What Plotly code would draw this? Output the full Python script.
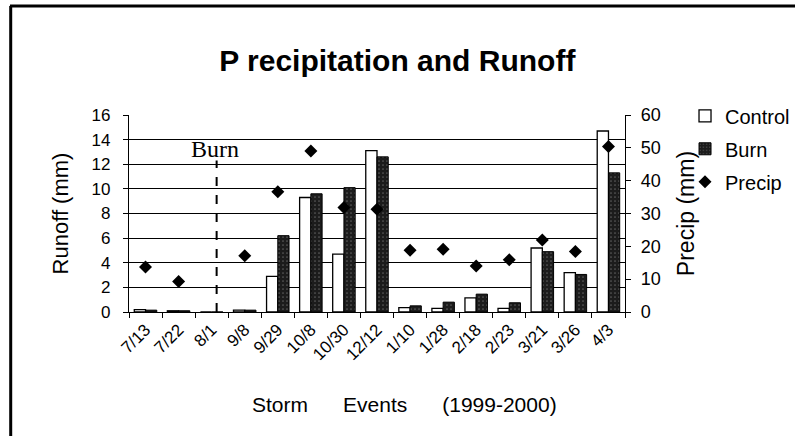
import plotly.graph_objects as go

events = ["7/13", "7/22", "8/1", "9/8", "9/29", "10/8", "10/30", "12/12",
          "1/10", "1/28", "2/18", "2/23", "3/21", "3/26", "4/3"]
control = [0.2, 0.1, 0, 0.15, 2.9, 9.3, 4.7, 13.1, 0.35, 0.3, 1.15, 0.3, 5.2, 3.2, 14.7]
burn = [0.15, 0.1, 0, 0.15, 6.2, 9.6, 10.1, 12.6, 0.5, 0.8, 1.45, 0.75, 4.9, 3.05, 11.3]
precip = [13.7, 9.3, None, 17.1, 36.6, 49.0, 31.8, 31.3, 18.8, 19.1, 14.0, 15.9, 21.9, 18.4, 50.4]

FONT = "Liberation Sans, Arial, sans-serif"

fig = go.Figure()
fig.add_trace(go.Bar(x=events, y=control, name="Control",
                     marker=dict(color="white", line=dict(color="black", width=1.3)),
                     legendgroup="a"))
fig.add_trace(go.Bar(x=events, y=burn, name="Burn",
                     marker=dict(color="#1c1c1c", line=dict(color="black", width=1),
                                 pattern=dict(shape=".", fgcolor="#9a9a9a", size=4, solidity=0.15)),
                     legendgroup="b"))
fig.add_trace(go.Scatter(x=events, y=precip, name="Precip", mode="markers", yaxis="y2",
                         marker=dict(symbol="diamond", size=10, color="black"),
                         legendgroup="c"))

# Burn marker line
fig.add_shape(type="line", xref="x", yref="y", x0=2.15, x1=2.15, y0=0, y1=12.3,
              line=dict(color="black", width=2, dash="dash"))
fig.add_annotation(x=2.1, y=13.25, xref="x", yref="y", text="Burn", showarrow=False,
                   font=dict(family="Liberation Serif, Times New Roman, serif", size=24, color="black"))

# x-axis title (centred like the reference)
fig.add_annotation(x=0.556, y=-0.472, xref="paper", yref="paper", xanchor="center", yanchor="middle",
                   text="Storm&nbsp;&nbsp;&nbsp;&nbsp;&nbsp;&nbsp;Events&nbsp;&nbsp;&nbsp;&nbsp;&nbsp;&nbsp;(1999-2000)",
                   showarrow=False, font=dict(family=FONT, size=21, color="black"))

fig.update_layout(
    width=795, height=440,
    margin=dict(l=129, r=170, t=115, b=128, autoexpand=False),
    paper_bgcolor="white", plot_bgcolor="white",
    title=dict(text="<b>P recipitation and Runoff</b>", x=0.541, xanchor="center", y=0.862, yanchor="middle",
               xref="paper", font=dict(family=FONT, size=30, color="black")),
    barmode="group", bargap=0.32, bargroupgap=0.0,
    font=dict(family=FONT, color="black"),
    showlegend=True,
    legend=dict(x=1.121, y=1.095, xanchor="left", yanchor="top", font=dict(family=FONT, size=20, color="black"),
                tracegroupgap=4, bgcolor="rgba(0,0,0,0)"),
    xaxis=dict(type="category", tickson="boundaries", ticks="outside", ticklen=5, tickcolor="black",
               showline=True, linecolor="black", linewidth=1.3, tickangle=-45, automargin=False,
               tickfont=dict(family=FONT, size=17, color="black"), showgrid=False,
               range=[-0.5, 14.5]),
    yaxis=dict(range=[0, 16], dtick=2, showgrid=True, gridcolor="black", gridwidth=1.2, automargin=False,
               showline=True, linecolor="black", linewidth=1.3, ticks="outside", ticklen=5, tickcolor="black",
               ticklabelstandoff=9,
               tickfont=dict(family=FONT, size=17, color="black"), zeroline=False,
               title=dict(text="Runoff (mm)", font=dict(family=FONT, size=22, color="black"), standoff=16)),
    yaxis2=dict(range=[0, 60], dtick=10, overlaying="y", side="right", showgrid=False, automargin=False,
                showline=True, linecolor="black", linewidth=1.3, ticks="outside", ticklen=5, tickcolor="black",
                ticklabelstandoff=6,
                tickfont=dict(family=FONT, size=18, color="black"), zeroline=False,
                title=dict(text="Precip (mm)", font=dict(family=FONT, size=23, color="black"), standoff=18)),
)

# outer frame lines (top and left)
fig.add_shape(type="line", xref="paper", yref="paper", x0=-0.24, x1=1.36, y0=1.553, y1=1.553,
              line=dict(color="black", width=3))
fig.add_shape(type="line", xref="paper", yref="paper", x0=-0.2385, x1=-0.2385, y0=1.553, y1=-0.63,
              line=dict(color="black", width=3))

fig.write_html("out.html", config={"displayModeBar": False},
               post_script="document.body.style.margin='0';")
